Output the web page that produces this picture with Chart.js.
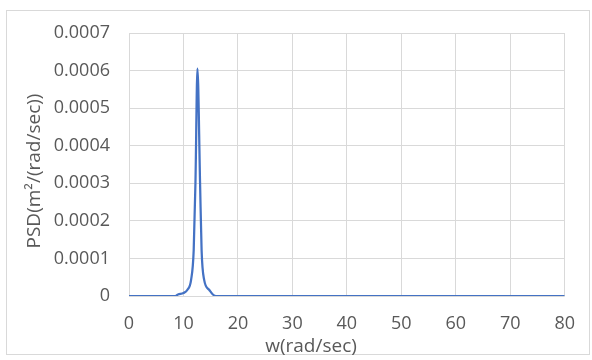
<!DOCTYPE html>
<html>
<head>
<meta charset="utf-8">
<script src="https://cdn.jsdelivr.net/npm/chart.js@4"></script>
<style>
  body { margin: 0; background: #fff; }
  #wrap { position: relative; width: 592px; height: 360px; }
</style>
</head>
<body>
<div id="wrap"><canvas id="psd" width="592" height="360"></canvas></div>
<script>
// frequency (rad/sec) and PSD values
const omega = [0, 8.5, 9.0, 10.0, 10.7, 11.4, 11.88, 12.2, 12.57, 13.05, 13.33, 13.8, 14.75, 15.4, 16.0, 80];
const psd = [0, 0, 0.000004, 0.000008, 0.000016, 0.000043, 0.000122, 0.0003, 0.000605, 0.0003, 0.000122, 0.000043, 0.000016, 0.000004, 0, 0];

const xTicks = [0, 10, 20, 30, 40, 50, 60, 70, 80];
const yTicks = [0, 0.0001, 0.0002, 0.0003, 0.0004, 0.0005, 0.0006, 0.0007];

const xTitle = 'w(rad/sec)';
const yTitle = 'PSD(m²/(rad/sec))';

const textColor = '#595959';
const gridColor = '#d9d9d9';
const fontFamily = "'Open Sans', 'Noto Sans', sans-serif";

// cadre gris + titres des axes (placés comme dans Excel, pas centrés sur la zone)
const frame = {
  id: 'frame',
  beforeDraw(chart) {
    const c = chart.ctx;
    c.save();
    c.strokeStyle = gridColor;
    c.lineWidth = 1;
    c.strokeRect(6.5, 10.5, 583, 344);
    c.restore();
  },
  afterDraw(chart) {
    const c = chart.ctx;
    c.save();
    c.fillStyle = textColor;
    c.font = '19px ' + fontFamily;
    c.textAlign = 'center';
    c.textBaseline = 'middle';
    c.fillText(xTitle, 311, 347);
    c.translate(35, 171);
    c.rotate(-Math.PI / 2);
    c.fillText(yTitle, 0, 0);
    c.restore();
  }
};

new Chart(document.getElementById('psd').getContext('2d'), {
  type: 'line',
  data: {
    datasets: [{
      data: omega.map((w, i) => ({ x: w, y: psd[i] })),
      borderColor: '#4472C4',
      borderWidth: 2.25,
      pointRadius: 0,
      fill: false,
      cubicInterpolationMode: 'monotone'
    }]
  },
  options: {
    responsive: false,
    animation: false,
    layout: { padding: { top: 33, right: 21, left: 0, bottom: 0 } },
    plugins: { legend: { display: false }, tooltip: { enabled: false } },
    scales: {
      x: {
        type: 'linear',
        min: 0,
        max: 80,
        afterBuildTicks: s => { s.ticks = xTicks.map(v => ({ value: v })); },
        afterFit: s => { s.height = 64; },
        grid: { color: gridColor, drawTicks: false, tickLength: 0 },
        border: { display: false },
        ticks: { color: textColor, padding: 17, maxRotation: 0, font: { family: fontFamily, size: 18 } }
      },
      y: {
        min: 0,
        max: 0.0007,
        afterBuildTicks: s => { s.ticks = yTicks.map(v => ({ value: v })); },
        afterFit: s => { s.width = 129; },
        grid: { color: gridColor, drawTicks: false, tickLength: 0 },
        border: { display: false },
        ticks: {
          color: textColor,
          padding: 19,
          font: { family: fontFamily, size: 18 },
          callback: v => v === 0 ? '0' : v.toFixed(4)
        }
      }
    }
  },
  plugins: [frame]
});
</script>
</body>
</html>
